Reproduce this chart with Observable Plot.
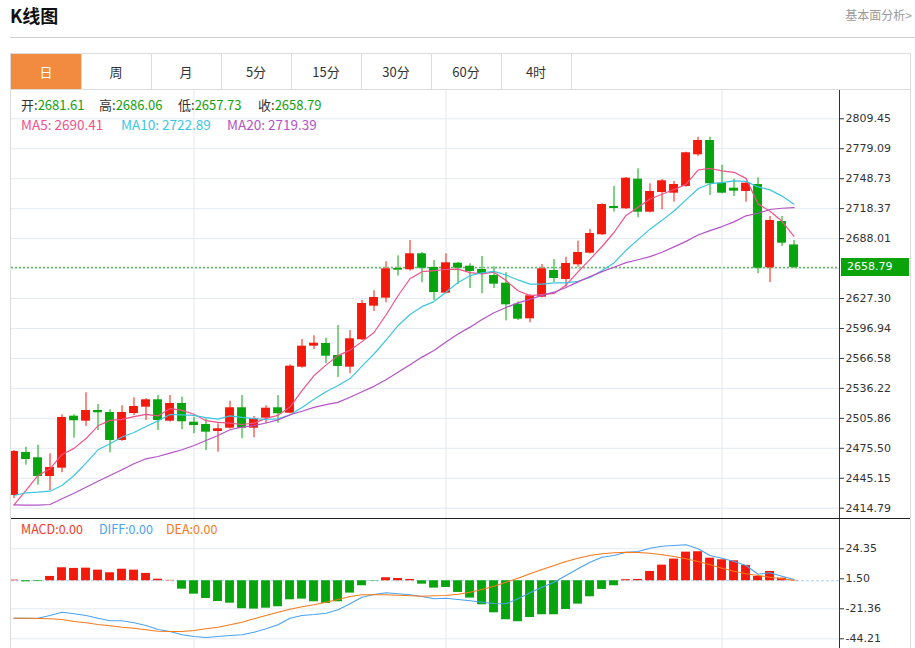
<!DOCTYPE html>
<html><head><meta charset="utf-8">
<script src="https://cdn.jsdelivr.net/npm/d3@7"></script>
<script src="https://cdn.jsdelivr.net/npm/@observablehq/plot@0.6"></script>
<style>
body{margin:0;background:#fff;font-family:"Noto Sans CJK SC","Noto Sans",sans-serif;}
#page{position:relative;width:915px;height:648px;overflow:hidden;background:#fff;}
.a{position:absolute;white-space:nowrap;}
.line{position:absolute;}
</style></head><body><div id="page"></div>
<script>
// ---------- data ----------
const opens=[2427.68,2471.26,2465.89,2446.93,2455.35,2508.05,2502.98,2513.82,2511.80,2483.42,2510.78,2517.17,2524.67,2502.98,2520.92,2501.97,2499.63,2492.54,2495.88,2516.56,2495.88,2506.02,2516.56,2511.09,2557.71,2578.99,2581.73,2569.56,2557.71,2585.48,2619.53,2627.64,2657.74,2656.42,2672.64,2658.75,2632.70,2663.11,2660.07,2656.72,2650.64,2642.84,2621.56,2606.76,2628.65,2655.71,2646.59,2661.49,2673.24,2691.89,2720.57,2718.24,2748.24,2714.80,2734.76,2734.05,2740.84,2772.97,2787.46,2744.19,2739.12,2735.78,2742.87,2658.45,2705.37,2681.61];
const highs=[2473.28,2476.63,2478.66,2469.94,2509.47,2509.47,2531.76,2519.90,2514.53,2518.59,2526.69,2525.68,2529.03,2529.03,2527.30,2507.03,2505.41,2500.34,2523.25,2529.03,2507.74,2518.59,2529.03,2560.14,2585.78,2589.53,2587.10,2599.97,2594.90,2625.31,2635.14,2664.53,2670.61,2686.11,2673.95,2665.85,2672.64,2663.90,2662.50,2669.90,2659.46,2653.38,2623.99,2631.39,2661.79,2666.86,2669.19,2685.41,2697.26,2723.30,2740.84,2750.00,2758.78,2743.58,2747.94,2745.91,2775.60,2790.81,2790.81,2762.43,2748.24,2744.90,2749.66,2710.44,2710.44,2686.06];
const lows=[2424.64,2458.39,2438.12,2432.74,2450.68,2485.75,2497.61,2493.55,2470.95,2482.50,2508.76,2503.69,2493.55,2502.00,2494.26,2490.21,2473.28,2471.56,2495.00,2485.14,2486.16,2500.34,2500.95,2510.48,2556.69,2575.65,2561.15,2547.27,2551.02,2584.77,2614.16,2622.97,2649.93,2655.00,2643.24,2625.31,2632.00,2641.52,2637.47,2632.10,2637.47,2604.73,2605.04,2602.71,2628.00,2643.55,2638.79,2659.05,2672.50,2691.20,2714.80,2717.50,2709.12,2714.00,2717.23,2724.93,2740.13,2771.25,2731.72,2733.44,2730.71,2724.93,2652.37,2643.55,2680.03,2657.73];
const closes=[2472.27,2464.16,2446.93,2456.05,2506.73,2503.38,2513.82,2511.49,2483.42,2511.80,2517.88,2524.67,2503.69,2520.92,2502.37,2498.62,2491.83,2495.28,2516.56,2495.88,2505.41,2516.15,2510.48,2558.72,2578.99,2582.03,2568.86,2558.42,2586.49,2622.27,2628.35,2657.43,2656.01,2672.64,2658.04,2633.41,2663.51,2658.04,2654.70,2651.96,2641.83,2620.95,2606.35,2630.07,2657.43,2647.60,2662.80,2673.95,2693.21,2722.60,2718.55,2749.25,2714.80,2735.78,2746.62,2742.87,2775.00,2787.46,2743.58,2734.05,2736.08,2744.19,2658.04,2706.38,2683.38,2658.79];
const ma5=[2418.25,2432.74,2447.95,2454.74,2469.23,2475.45,2485.38,2498.30,2503.77,2504.78,2507.68,2509.85,2508.29,2515.79,2513.90,2510.05,2503.49,2501.80,2500.93,2499.63,2500.99,2505.86,2508.90,2517.33,2533.95,2549.27,2559.81,2569.40,2574.96,2583.61,2592.87,2610.59,2630.11,2647.34,2654.49,2655.51,2656.72,2657.13,2653.54,2652.33,2654.01,2645.49,2635.16,2630.23,2631.33,2632.48,2640.85,2654.37,2667.00,2680.03,2694.22,2711.51,2719.68,2728.19,2733.00,2737.86,2743.01,2757.54,2759.11,2756.59,2755.23,2749.07,2723.19,2715.75,2705.61,2690.41];
const ma10=[2427.68,2430.41,2431.02,2432.04,2437.81,2447.95,2460.41,2473.99,2480.07,2487.01,2491.57,2497.62,2503.29,2509.78,2509.34,2508.87,2506.67,2505.05,2508.36,2506.77,2505.52,2504.67,2505.35,2509.13,2516.79,2525.13,2532.84,2539.15,2546.14,2558.78,2571.07,2585.20,2599.76,2611.15,2619.05,2624.19,2633.66,2643.62,2650.44,2653.41,2654.76,2651.11,2646.14,2641.89,2641.83,2643.24,2643.17,2644.76,2648.62,2655.68,2663.35,2676.18,2687.03,2697.60,2706.52,2716.04,2727.26,2738.61,2743.65,2744.80,2746.55,2746.04,2740.37,2737.43,2731.10,2722.89];
const ma20=[2418.25,2417.85,2417.85,2418.56,2424.33,2430.01,2436.09,2442.17,2447.95,2453.72,2459.80,2464.87,2467.20,2470.55,2473.99,2478.35,2483.42,2488.49,2494.26,2496.89,2498.54,2501.14,2504.32,2509.46,2513.06,2517.00,2519.75,2522.09,2527.25,2532.78,2538.30,2544.94,2552.55,2560.14,2567.92,2574.66,2583.25,2591.38,2598.29,2606.09,2612.91,2618.15,2622.94,2626.51,2630.43,2633.72,2638.41,2644.19,2649.53,2654.54,2659.05,2663.65,2666.59,2669.74,2674.17,2679.64,2685.21,2691.69,2696.13,2700.23,2704.95,2711.11,2713.69,2717.51,2718.81,2719.39];
const macdBars=[0.5,-0.8,-0.5,3.3,9.9,9.4,9.6,8.1,6.1,8.8,8.1,5.6,1.2,0.3,-6.4,-10.2,-13.5,-15.8,-17.1,-21.3,-21.6,-20.9,-19.8,-14.5,-14.0,-16.0,-17.3,-16.0,-9.4,-3.8,-0.3,2.3,1.75,1.0,-2.6,-5.6,-5.1,-8.9,-13.2,-18.3,-24.4,-29.7,-31.2,-28.0,-25.9,-25.9,-21.9,-17.8,-12.2,-6.6,-3.8,0.8,1.0,7.1,11.9,16.5,21.8,22.1,17.2,16.0,15.2,11.7,3.3,7.1,2.0,0.3];
const diffs=[-28.52,-28.52,-28.52,-26.46,-23.95,-25.17,-26.46,-28.52,-30.50,-30.50,-32.03,-34.08,-37.13,-38.65,-41.17,-42.46,-43.22,-42.46,-41.70,-41.17,-39.19,-36.60,-33.55,-28.52,-26.46,-25.70,-24.71,-22.12,-17.55,-12.52,-10.47,-9.17,-9.93,-10.69,-11.99,-13.74,-13.28,-14.27,-15.26,-16.33,-17.32,-17.55,-13.74,-9.17,-4.90,-1.09,4.01,9.11,14.14,17.95,19.25,21.76,22.29,24.81,26.33,26.86,27.40,24.35,19.25,17.19,14.67,11.63,5.00,6.07,3.48,0.96];
const deas=[-28.52,-28.52,-28.75,-28.98,-29.51,-31.03,-32.03,-33.32,-34.31,-35.38,-36.14,-37.36,-38.43,-38.65,-38.65,-37.89,-36.60,-35.38,-33.55,-31.57,-28.98,-26.46,-23.95,-21.66,-19.84,-18.31,-16.33,-14.27,-11.99,-10.69,-10.69,-10.69,-11.00,-11.46,-11.76,-11.46,-11.23,-10.24,-8.71,-6.66,-4.14,-1.09,1.95,5.30,8.58,11.63,14.67,17.19,19.25,20.54,21.30,21.76,21.53,21.00,19.78,18.48,16.73,14.67,12.16,9.57,7.28,5.30,4.01,2.71,1.50,0.43];
const priceTicks=[2809.45,2779.09,2748.73,2718.37,2688.01,2657.65,2627.30,2596.94,2566.58,2536.22,2505.86,2475.50,2445.15,2414.79];
const macdTicks=[24.35,1.50,-21.36,-44.21];
const periodStarts=[15,36,59];
const tabs=["日","周","月","5分","15分","30分","60分","4时"];
const macdLegend=[["MACD","0.00","#f03a2a"],["DIFF","0.00","#4aa3ee"],["DEA","0.00","#f57a1c"]];

// ---------- styling ----------
const RED="#f31a0b", GREEN="#07a50d";
const C_MA5="#f0528a", C_MA10="#3cc6e0", C_MA20="#b552c8";
const GRID="#e3eaf0";
const xDomain=[-0.2083,68.79];
const page=document.getElementById("page");
function el(html,style){const d=document.createElement("div");d.className="a";d.innerHTML=html;Object.assign(d.style,style);page.appendChild(d);return d;}
function ln(l,t,w,h,c){const d=document.createElement("div");d.className="line";Object.assign(d.style,{left:l+"px",top:t+"px",width:w+"px",height:h+"px",background:c});page.appendChild(d);}

// header
el("K线图",{left:"10px",top:"5px",fontSize:"18px",fontWeight:"bold",color:"#111",lineHeight:"20px"});
el("基本面分析&gt;",{right:"3px",top:"8px",fontSize:"12px",color:"#999",lineHeight:"14px"});
ln(10,37,905,1,"#cfcfcf");

// tabs
ln(11,53,899,1,"#dcdcdc");
ln(11,89,899,1,"#dcdcdc");
tabs.forEach((t,k)=>{
  el(t,{left:(11+k*70)+"px",top:"54px",width:"70px",height:"35px",lineHeight:"35px",textAlign:"center",fontSize:"13px",color:k===0?"#fff":"#333",background:k===0?"#f28b3f":"transparent"});
  ln(11+(k+1)*70,54,1,35,"#dcdcdc");
});

// ---------- tables ----------
const candles=closes.map((c,i)=>({i,open:opens[i],high:highs[i],low:lows[i],close:c,ma5:ma5[i],ma10:ma10[i],ma20:ma20[i],col:c>=opens[i]?RED:GREEN}));
const macdRows=macdBars.map((v,i)=>({i,v,diff:diffs[i],dea:deas[i],col:v>=0?RED:GREEN}));
const half=0.37;
const lastClose=closes[closes.length-1];
const labelTicks=priceTicks.filter(t=>Math.abs(t-lastClose)>8); // the current-price tag covers the nearest tick

const main=Plot.plot({
  width:915,height:428,marginLeft:11,marginRight:76,marginTop:0,marginBottom:0,
  x:{type:"linear",domain:xDomain,axis:null},
  y:{domain:[2404.35,2838.13],axis:null},
  color:{type:"identity"},
  style:{background:"transparent",fontFamily:"DejaVu Sans",fontSize:"11px",overflow:"visible"},
  marks:[
    Plot.ruleY(priceTicks,{stroke:GRID}),
    Plot.ruleX(periodStarts,{stroke:GRID}),
    Plot.ruleY([lastClose],{stroke:"#62b862",strokeDasharray:"2,2",strokeWidth:1.5}),
    Plot.ruleX(candles,{x:"i",y1:"low",y2:"high",stroke:"col",strokeWidth:1,clip:true}),
    Plot.rect(candles,{x1:d=>d.i-half,x2:d=>d.i+half,y1:"open",y2:"close",fill:"col",clip:true}),
    Plot.line(candles,{x:"i",y:"ma5",stroke:C_MA5,strokeWidth:1.2,clip:true}),
    Plot.line(candles,{x:"i",y:"ma10",stroke:C_MA10,strokeWidth:1.2,clip:true}),
    Plot.line(candles,{x:"i",y:"ma20",stroke:C_MA20,strokeWidth:1.2,clip:true}),
    Plot.axisY(labelTicks,{anchor:"right",tickSize:4,tickPadding:2,tickFormat:d=>d.toFixed(2),color:"#333",fontSize:11,fontFamily:"DejaVu Sans"})
  ]
});
const w1=document.createElement("div");w1.className="a";w1.style.left="0px";w1.style.top="90px";w1.appendChild(main);page.appendChild(w1);

const macdPlot=Plot.plot({
  width:915,height:130,marginLeft:11,marginRight:76,marginTop:0,marginBottom:0,
  x:{type:"linear",domain:xDomain,axis:null},
  y:{domain:[-51.60,47.43],axis:null},
  color:{type:"identity"},
  style:{background:"transparent",fontFamily:"DejaVu Sans",fontSize:"11px",overflow:"visible"},
  marks:[
    Plot.ruleY(macdTicks.filter(t=>Math.abs(t)>2),{stroke:GRID}),
    Plot.ruleX(periodStarts,{stroke:GRID}),
    Plot.ruleY([0],{stroke:"#a8d4ee",strokeDasharray:"3,2",strokeWidth:1.2}),
    Plot.rect(macdRows,{x1:d=>d.i-half,x2:d=>d.i+half,y1:0,y2:"v",fill:"col",clip:true}),
    Plot.line(macdRows,{x:"i",y:"diff",stroke:"#4aa3ee",strokeWidth:1.1,clip:true}),
    Plot.line(macdRows,{x:"i",y:"dea",stroke:"#f57a1c",strokeWidth:1.1,clip:true}),
    Plot.axisY(macdTicks,{anchor:"right",tickSize:4,tickPadding:2,tickFormat:d=>d.toFixed(2),color:"#333",fontSize:11,fontFamily:"DejaVu Sans"})
  ]
});
const w2=document.createElement("div");w2.className="a";w2.style.left="0px";w2.style.top="518px";w2.appendChild(macdPlot);page.appendChild(w2);

// frame lines
ln(10,53,1,595,"#dcdcdc");
ln(910,53,1,595,"#dcdcdc");
ln(839,90,1,558,"#333");
ln(11,518,899,1,"#222");

// current price tag
const yPx=90+main.scale("y").apply(lastClose);
el(lastClose.toFixed(2),{left:"841px",top:(yPx-9)+"px",width:"68px",height:"18px",lineHeight:"18px",background:"#0aa30a",color:"#fff",fontFamily:"DejaVu Sans",fontSize:"11px",paddingLeft:"6px",boxSizing:"border-box"});

// legends
const n=closes.length-1;
const ohlc=[["开",opens[n],21],["高",highs[n],99],["低",lows[n],178],["收",closes[n],258]];
ohlc.forEach(([k,v,x])=>el(`<span style="color:#333">${k}:</span><span style="color:#14a014">${v.toFixed(2)}</span>`,{left:x+"px",top:"97px",fontSize:"13px",lineHeight:"16px"}));
const mas=[["MA5",ma5[n],C_MA5,21],["MA10",ma10[n],C_MA10,121],["MA20",ma20[n],C_MA20,227]];
mas.forEach(([k,v,c,x])=>el(`${k}: ${v.toFixed(2)}`,{left:x+"px",top:"116px",fontSize:"13.5px",lineHeight:"16px",color:c}));
[21,99,166].forEach((x,k)=>{const [name,val,c]=macdLegend[k];el(`${name}:${val}`,{left:x+"px",top:"521px",fontSize:"12.5px",lineHeight:"16px",color:c});});
</script>
</body></html>
